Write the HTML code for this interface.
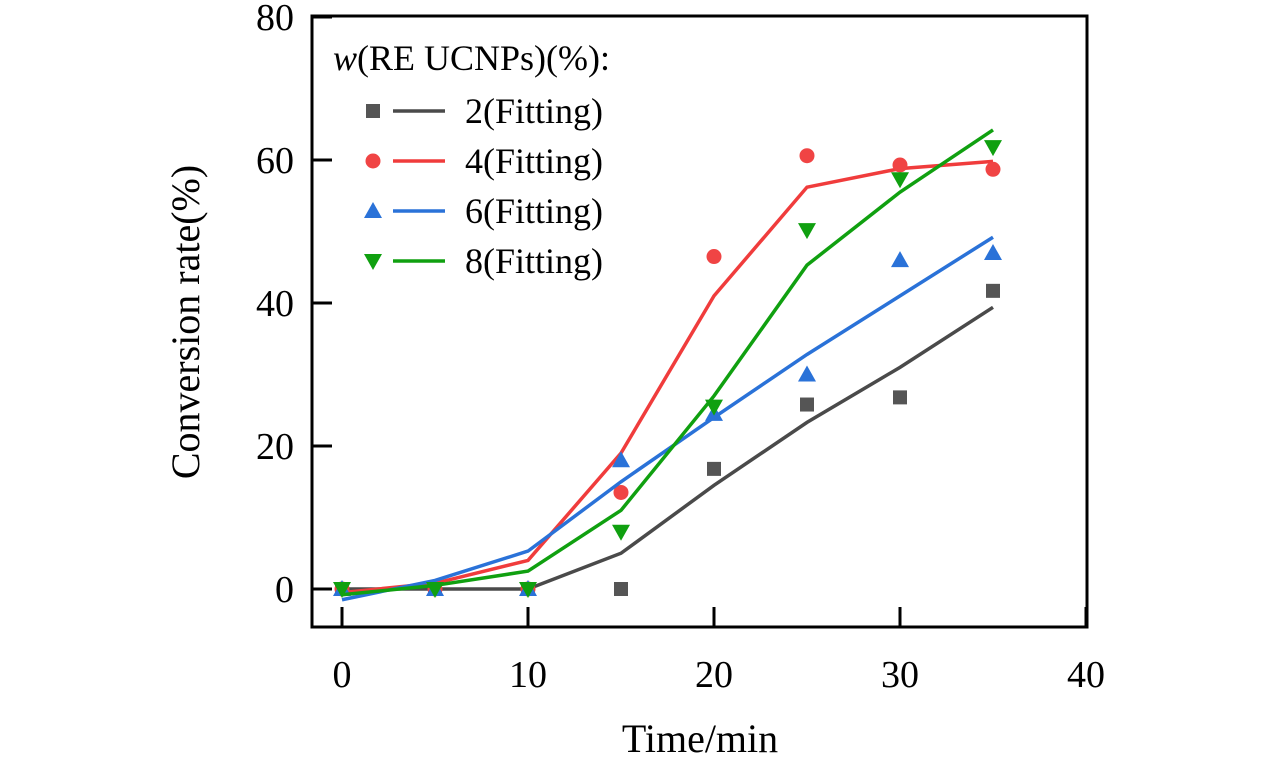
<!DOCTYPE html>
<html><head><meta charset="utf-8"><style>
html,body{margin:0;padding:0;background:#fff}
svg{display:block;font-family:"Liberation Serif",serif}
</style></head><body>
<svg id="chart" width="1276" height="765" viewBox="0 0 1276 765"></svg>
<script>
const xCats=[0,5,10,15,20,25,30,35];
const xTicks=[0,10,20,30,40];
const yTicks=[0,20,40,60,80];
const s2=[0,0,0,0,16.8,25.8,26.8,41.7];
const f2=[0,0,0,5,14.5,23.3,31,39.4];
const s4=[0,0,0,13.5,46.5,60.6,59.3,58.7];
const f4=[-0.5,0.8,4,19,41,56.2,58.8,59.8];
const s6=[0,0,0,18,24.5,30,46,47];
const f6=[-1.5,1.2,5.3,15,24,32.8,41,49.2];
const s8=[0,0,0,8,25.5,50.2,57.3,61.8];
const f8=[-0.8,0.5,2.5,11,27,45.3,55.5,64.2];
const labels=["2(Fitting)","4(Fitting)","6(Fitting)","8(Fitting)"];

const svg=document.getElementById('chart');
const NS='http://www.w3.org/2000/svg';
const X=v=>342+v*18.6;
const Y=v=>589-v*7.15;
function mk(t,a,p){const e=document.createElementNS(NS,t);for(const k in a)e.setAttribute(k,a[k]);(p||svg).appendChild(e);return e;}
const L=312,R=1087,T=16,B=627;
const frame=mk('rect',{x:L,y:T,width:R-L,height:B-T,fill:'none',stroke:'#000','stroke-width':3});


xTicks.forEach(t=>{
 const l=mk('line',{x1:X(t),x2:X(t),y1:B,y2:B-20,stroke:'#000','stroke-width':3});
 
 
 const tx=mk('text',{x:X(t),y:687,'font-size':38,'text-anchor':'middle'});tx.textContent=t;
 
 
});
yTicks.forEach(t=>{
 const l=mk('line',{x1:L,x2:L+20,y1:Y(t),y2:Y(t),stroke:'#000','stroke-width':3});
 
 
 const tx=mk('text',{x:294,y:Y(t)+13,'font-size':38,'text-anchor':'end'});tx.textContent=t;
 
 
});
const xt=mk('text',{x:700,y:752,'font-size':40,'text-anchor':'middle'});xt.textContent='Time/min';


const yt=mk('text',{x:0,y:0,'font-size':40,'text-anchor':'middle',transform:'translate(199,322) rotate(-90)'});yt.textContent='Conversion rate(%)';



function marker(type,cx,cy,color,g){
 if(type==='sq')return mk('rect',{x:cx-7,y:cy-7,width:14,height:14,fill:color},g);
 if(type==='c')return mk('circle',{cx:cx,cy:cy,r:7.5,fill:color},g);
 if(type==='up')return mk('polygon',{points:`${cx},${cy-9} ${cx+9},${cy+7} ${cx-9},${cy+7}`,fill:color},g);
 return mk('polygon',{points:`${cx},${cy+9} ${cx+9},${cy-7} ${cx-9},${cy-7}`,fill:color},g);
}
const series=[[s2,f2,'#4a4a4a','#555','sq'],[s4,f4,'#f03c3c','#f04444','c'],[s6,f6,'#2a72d8','#2a72d8','up'],[s8,f8,'#10a010','#10a010','dn']];
series.forEach((s,i)=>{
 const g=mk('g',{});
 
 
 const pl=mk('polyline',{points:xCats.map((x,j)=>X(x)+','+Y(s[1][j])).join(' '),fill:'none',stroke:s[2],'stroke-width':3.5},g);
 
 
 xCats.forEach((x,j)=>{const m=marker(s[4],X(x),Y(s[0][j]),s[3],g);
  
  });
 const ly=111+i*50;
 const lg=mk('g',{});
 
 
 marker(s[4],373,ly,s[3],lg);
 mk('line',{x1:393,x2:445,y1:ly,y2:ly,stroke:s[2],'stroke-width':3.5},lg);
 const t=mk('text',{x:465,y:ly+12,'font-size':36},lg);t.textContent=labels[i];
});
const lt=mk('text',{x:333,y:70,'font-size':36});
lt.innerHTML='<tspan font-style="italic">w</tspan>(RE UCNPs)(%):';


</script>
</body></html>
